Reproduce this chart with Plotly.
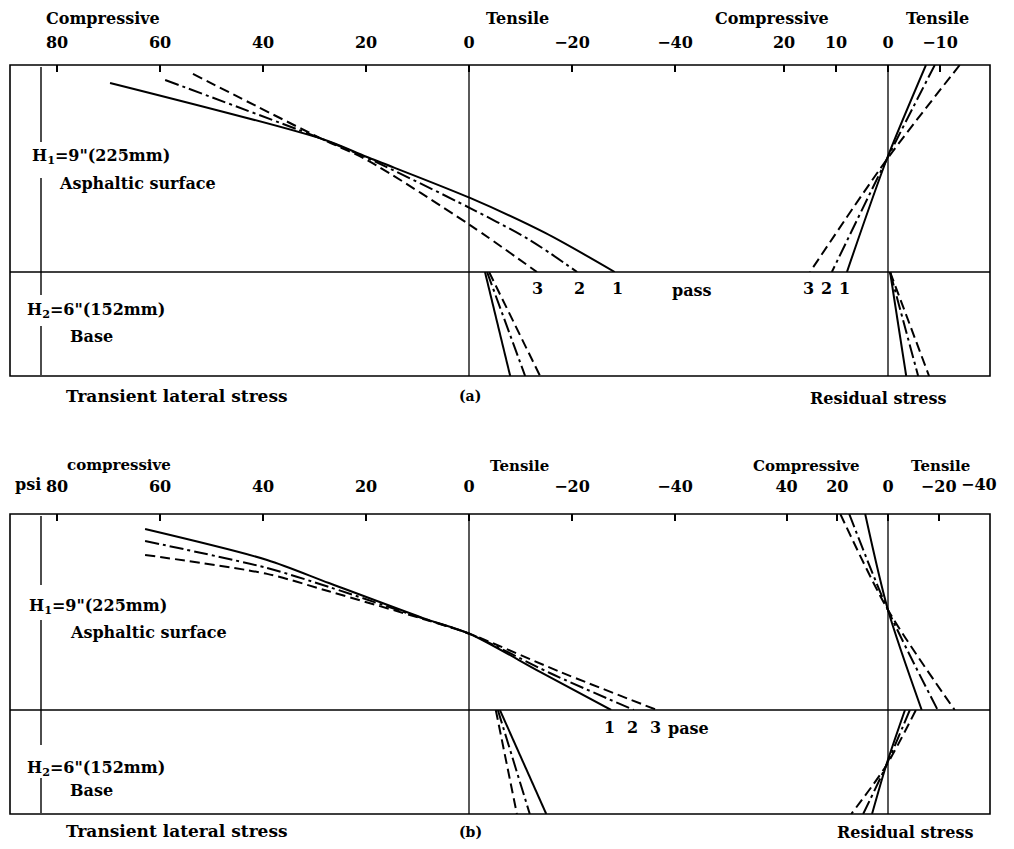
import plotly.graph_objects as go

# The page body keeps its default 8px margin, so the figure is made 16px smaller
# than the 1014x849 window and reference pixel positions are shifted by 8px.
WIN_W, WIN_H = 1014, 849
OFF = 8
W, H = WIN_W - 2 * OFF, WIN_H - 2 * OFF
FONT = "DejaVu Serif"

# ---------------- DATA (stress in psi, + = compressive; depth in inches) ----------------
pass_styles = ["solid", "14px,4px,3px,4px", "10px,5px"]   # pass 1, 2, 3

# Panel (a) transient lateral stress, asphaltic surface
a_tr_surf_depth = [
    [0.78, 3.22, 4.00, 5.78, 7.30, 9.0],
    [0.65, 3.22, 4.04, 6.22, 7.61, 9.0],
    [0.39, 3.22, 4.13, 6.96, 9.0],
]
a_tr_surf_stress = [
    [69.7, 28.5, 19.8, -0.2, -14.8, -28.3],
    [59.0, 28.5, 19.8, -0.2, -11.8, -21.0],
    [53.6, 28.5, 19.8, -0.2, -13.2],
]
# Panel (a) transient lateral stress, base
base_depth = [9.0, 15.0]
a_tr_base_stress = [[-3.1, -8.0], [-3.5, -10.9], [-3.9, -13.8]]
# Panel (a) residual stress
a_res_surf_depth = [0.0, 4.13, 9.0]
a_res_surf_stress = [[-7.3, 0.3, 7.9], [-9.0, 0.3, 10.8], [-13.8, 0.3, 15.0]]
a_res_base_stress = [[-0.4, -3.5], [-0.4, -5.8], [-0.4, -7.9]]

# Panel (b) transient lateral stress, asphaltic surface
b_tr_surf_depth = [
    [0.69, 2.11, 3.17, 4.78, 5.51, 7.25, 9.0],
    [1.24, 2.48, 3.35, 4.80, 5.51, 7.30, 9.0],
    [1.88, 2.75, 3.55, 4.82, 5.51, 7.25, 9.0],
]
b_tr_surf_stress = [
    [62.9, 39.2, 27.2, 8.9, -0.2, -13.8, -27.6],
    [62.9, 39.2, 27.2, 8.9, -0.2, -15.7, -32.0],
    [62.9, 39.2, 27.2, 8.9, -0.2, -17.7, -36.5],
]
b_tr_base_stress = [[-6.0, -15.0], [-5.6, -11.8], [-5.2, -9.3]]
# Panel (b) residual stress
b_res_surf_depth = [0.0, 4.41, 9.0]
b_res_surf_stress = [[9.0, 0.0, -13.3], [15.3, 0.0, -19.6], [18.8, 0.0, -26.3]]
b_res_base_depth = [9.0, 12.23, 15.0]
b_res_base_stress = [[-6.7, 0.8, 6.3], [-8.6, 0.8, 9.8], [-11.0, 0.8, 14.5]]

# Tick values
tr_ticks = [80, 60, 40, 20, 0, -20, -40]
a_res_ticks = [20, 10, 0, -10]
b_res_ticks = [40, 20, 0, -20]
b_res_edge_tick = -40          # sits on the right frame edge, labelled separately

# ---------------- LAYOUT GEOMETRY (reference window pixels) ----------------
def px(x):
    return (x - OFF) / W

def py(y):
    return 1 - (y - OFF) / H

BOX_L, BOX_R = 10, 990
A_TOP, A_DIV, A_BOT = 65, 272, 376
B_TOP, B_DIV, B_BOT = 514, 710, 814
TR_ZERO, TR_SCALE = 469, 5.15
RES_ZERO = 888
A_RES_SCALE, B_RES_SCALE = 5.2, 2.535

tr_range = [(TR_ZERO - BOX_L) / TR_SCALE, (TR_ZERO - BOX_R) / TR_SCALE]
a_res_range = [(RES_ZERO - BOX_L) / A_RES_SCALE, (RES_ZERO - BOX_R) / A_RES_SCALE]
b_res_range = [(RES_ZERO - BOX_L) / B_RES_SCALE, (RES_ZERO - BOX_R) / B_RES_SCALE]

fig = go.Figure()

def add(xs, ys, xa, ya, i, smooth=False):
    line = dict(color="black", width=2, dash=pass_styles[i])
    if smooth:
        line.update(shape="spline", smoothing=0.8)
    fig.add_trace(go.Scatter(
        x=xs, y=ys, xaxis=xa, yaxis=ya, mode="lines", line=line,
        showlegend=False, hoverinfo="skip"))

for i in range(3):
    add(a_tr_surf_stress[i], a_tr_surf_depth[i], "x", "y", i, smooth=True)
    add(a_tr_base_stress[i], base_depth, "x", "y2", i)
    add(a_res_surf_stress[i], a_res_surf_depth, "x2", "y", i, smooth=True)
    add(a_res_base_stress[i], base_depth, "x2", "y2", i)
    add(b_tr_surf_stress[i], b_tr_surf_depth[i], "x3", "y3", i, smooth=True)
    add(b_tr_base_stress[i], base_depth, "x3", "y4", i)
    add(b_res_surf_stress[i], b_res_surf_depth, "x4", "y3", i, smooth=True)
    add(b_res_base_stress[i], b_res_base_depth, "x4", "y4", i, smooth=True)

def lab(v):
    return "\u2212" + str(abs(v)) if v < 0 else str(v)

tickfont = dict(family=FONT, size=16, color="black", weight="bold")

def xaxis(rng, ticks, anchor, standoff, overlaying=None):
    d = dict(domain=[px(BOX_L), px(BOX_R)], range=rng, side="top", anchor=anchor,
             tickmode="array", tickvals=ticks, ticktext=[lab(t) for t in ticks],
             ticks="inside", ticklen=7, tickwidth=1.5, tickcolor="black",
             showgrid=False, zeroline=False, showline=False,
             tickfont=tickfont, ticklabelstandoff=standoff, fixedrange=True)
    if overlaying:
        d["overlaying"] = overlaying
    return d

def yaxis(dom_top, dom_bot, rng):
    return dict(domain=[py(dom_bot), py(dom_top)], range=rng, visible=False,
                showgrid=False, zeroline=False, fixedrange=True)

fig.update_layout(
    xaxis=xaxis(tr_range, tr_ticks, "y", 13),
    xaxis2=xaxis(a_res_range, a_res_ticks, "y", 13, overlaying="x"),
    xaxis3=xaxis(tr_range, tr_ticks, "y3", 18),
    xaxis4=xaxis(b_res_range, b_res_ticks, "y3", 18, overlaying="x3"),
    yaxis=yaxis(A_TOP, A_DIV, [9, 0]),
    yaxis2=yaxis(A_DIV, A_BOT, [15, 9]),
    yaxis3=yaxis(B_TOP, B_DIV, [9, 0]),
    yaxis4=yaxis(B_DIV, B_BOT, [15, 9]),
)

# ---------------- SHAPES ----------------
shapes = []
LW = 1.6
for top, div, bot, xt, xr in [(A_TOP, A_DIV, A_BOT, "x", "x2"), (B_TOP, B_DIV, B_BOT, "x3", "x4")]:
    shapes.append(dict(type="rect", xref="paper", yref="paper", x0=px(BOX_L), x1=px(BOX_R),
                       y0=py(bot), y1=py(top), line=dict(color="black", width=LW)))
    shapes.append(dict(type="line", xref="paper", yref="paper", x0=px(BOX_L), x1=px(BOX_R),
                       y0=py(div), y1=py(div), line=dict(color="black", width=LW)))
    for xa in (xt, xr):
        shapes.append(dict(type="line", xref=xa, yref="paper", x0=0, x1=0,
                           y0=py(bot), y1=py(top), line=dict(color="black", width=1.3)))

# dimension lines at the left
for y0, y1 in [(67, 142), (178, 295), (326, 375), (516, 585), (620, 745), (778, 813)]:
    shapes.append(dict(type="line", xref="paper", yref="paper", x0=px(41), x1=px(41),
                       y0=py(y0), y1=py(y1), line=dict(color="black", width=1.4)))

fig.update_layout(shapes=shapes)

# ---------------- TEXT ----------------
txt = dict(family=FONT, size=16, color="black", weight="bold")
ann = []

def T(s, x, y, size=16, anchor="center"):
    f = dict(txt)
    f["size"] = size
    ann.append(dict(text=s, x=px(x), y=py(y), xref="paper", yref="paper",
                    xanchor=anchor, yanchor="middle", showarrow=False, font=f))

# panel (a)
T("Compressive", 103, 18)
T("Tensile", 517, 18)
T("Compressive", 772, 18)
T("Tensile", 937, 18)
T("H<sub>1</sub>=9\"(225mm)", 30, 156, anchor="left")
T("Asphaltic surface", 57, 184, anchor="left")
T("H<sub>2</sub>=6\"(152mm)", 25, 310, anchor="left")
T("Base", 68, 336, anchor="left")
T("3", 537, 288)
T("2", 579, 288)
T("1", 617, 288)
T("pass", 692, 290)
T("3", 808, 288)
T("2", 826, 288)
T("1", 844, 288)
T("Transient lateral stress", 177, 396, size=17)
T("(a)", 470, 396, size=14)
T("Residual stress", 878, 398)

# panel (b)
T("compressive", 119, 465, size=15)
T("Tensile", 519, 466, size=15)
T("Compressive", 806, 466, size=15)
T("Tensile", 940, 466, size=15)
T("psi", 28, 484)
T(lab(b_res_edge_tick), 999, 484, anchor="right")
T("H<sub>1</sub>=9\"(225mm)", 27, 606, anchor="left")
T("Asphaltic surface", 68, 632, anchor="left")
T("H<sub>2</sub>=6\"(152mm)", 25, 768, anchor="left")
T("Base", 68, 790, anchor="left")
T("1", 609, 727)
T("2", 632, 727)
T("3", 655, 727)
T("pase", 688, 728)
T("Transient lateral stress", 177, 831, size=17)
T("(b)", 470, 832, size=14)
T("Residual stress", 905, 832)

fig.update_layout(
    annotations=ann,
    width=W, height=H, autosize=False,
    margin=dict(l=0, r=0, t=0, b=0),
    paper_bgcolor="white", plot_bgcolor="white",
    showlegend=False,
)

fig.write_html("out.html", config={"displayModeBar": False})
